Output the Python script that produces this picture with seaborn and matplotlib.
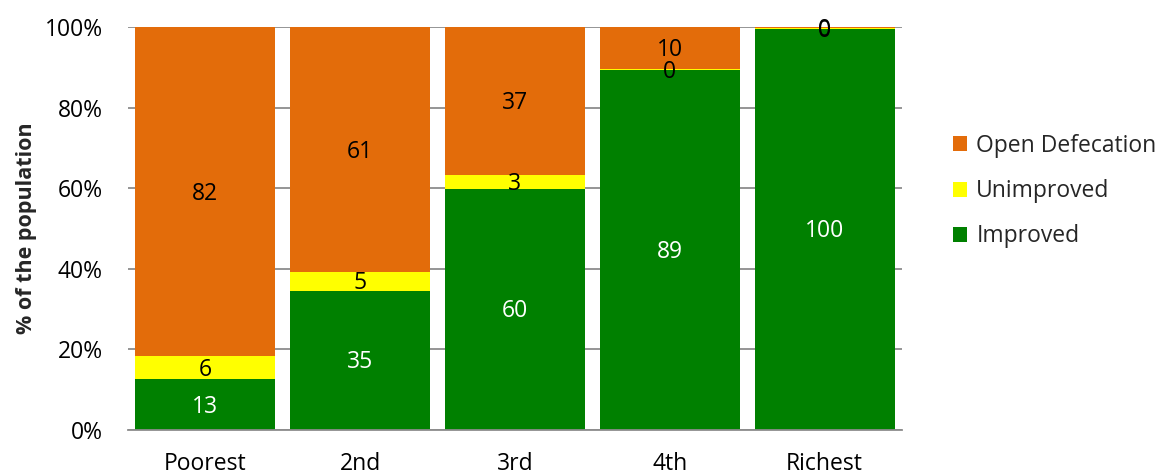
import matplotlib
matplotlib.use("Agg")
import matplotlib.pyplot as plt
from matplotlib.patches import Patch
from matplotlib.ticker import FuncFormatter
import numpy as np
import pandas as pd
import seaborn as sns

# Sanitation by wealth quintile, % of the population
quintiles = ["Poorest", "2nd", "3rd", "4th", "Richest"]
improved = [12.6, 34.6, 59.9, 89.3, 99.6]
unimproved = [5.7, 4.6, 3.4, 0.3, 0.1]
open_defecation = [81.7, 60.8, 36.7, 10.4, 0.3]

series_names = ["Improved", "Unimproved", "Open Defecation"]
series_colors = {"Improved": "#008000", "Unimproved": "#FFFF00", "Open Defecation": "#E36C0A"}
label_colors = {"Improved": "white", "Unimproved": "black", "Open Defecation": "black"}

sns.set_theme(style="white")
plt.rcParams["font.family"] = ["Open Sans", "DejaVu Sans"]

df = pd.DataFrame({
    "quintile": quintiles,
    "Improved": improved,
    "Unimproved": unimproved,
    "Open Defecation": open_defecation,
})
cum = df[series_names].cumsum(axis=1)

fig = plt.figure(figsize=(11.58, 4.72), dpi=100)
ax = fig.add_axes([0.1105, 0.089, 0.6684, 0.8538])

# Stack by drawing cumulative totals from the top segment down
for name in reversed(series_names):
    sns.barplot(x=df["quintile"], y=cum[name], color=series_colors[name],
                width=0.905, saturation=1, ax=ax, zorder=2, linewidth=0)

# Segment value labels centred in each segment (digits centred on cap height)
label_size = 16.5
for name in series_names:
    bottoms = cum[name] - df[name]
    for i, (b, v) in enumerate(zip(bottoms, df[name])):
        ax.annotate(f"{v:.0f}", xy=(i, b + v / 2), xytext=(0, -0.714 * label_size / 2),
                    textcoords="offset points", ha="center", va="baseline",
                    fontsize=label_size, color=label_colors[name], zorder=3)

ax.set_xlim(-0.5, len(quintiles) - 0.5)
ax.set_ylim(0, 100)
ax.set_yticks(np.arange(0, 101, 20))
ax.yaxis.set_major_formatter(FuncFormatter(lambda v, _: f"{v:.0f}%"))
ax.grid(axis="y", color="#8C8C8C", linewidth=1.3, zorder=0)
ax.set_axisbelow(True)
for side in ["top", "right", "left"]:
    ax.spines[side].set_visible(False)
ax.spines["bottom"].set_color("#8C8C8C")
ax.spines["bottom"].set_linewidth(1.3)
ax.tick_params(axis="y", labelsize=16.5, length=0, pad=18, colors="black")
ax.tick_params(axis="x", labelsize=16.5, length=0, pad=16, colors="black")
ax.set_xlabel("")
ax.set_ylabel("% of the population", fontsize=15.5, fontweight="bold", labelpad=6)

handles = [Patch(facecolor=series_colors[n], edgecolor="none", label=n)
           for n in reversed(series_names)]
fig.legend(handles=handles, loc="center left", bbox_to_anchor=(0.815, 0.595),
           frameon=False, fontsize=16.5, handlelength=0.62, handleheight=0.62,
           handletextpad=0.4, labelspacing=0.93, borderaxespad=0)

fig.savefig("out.png", dpi=100, facecolor="white")
